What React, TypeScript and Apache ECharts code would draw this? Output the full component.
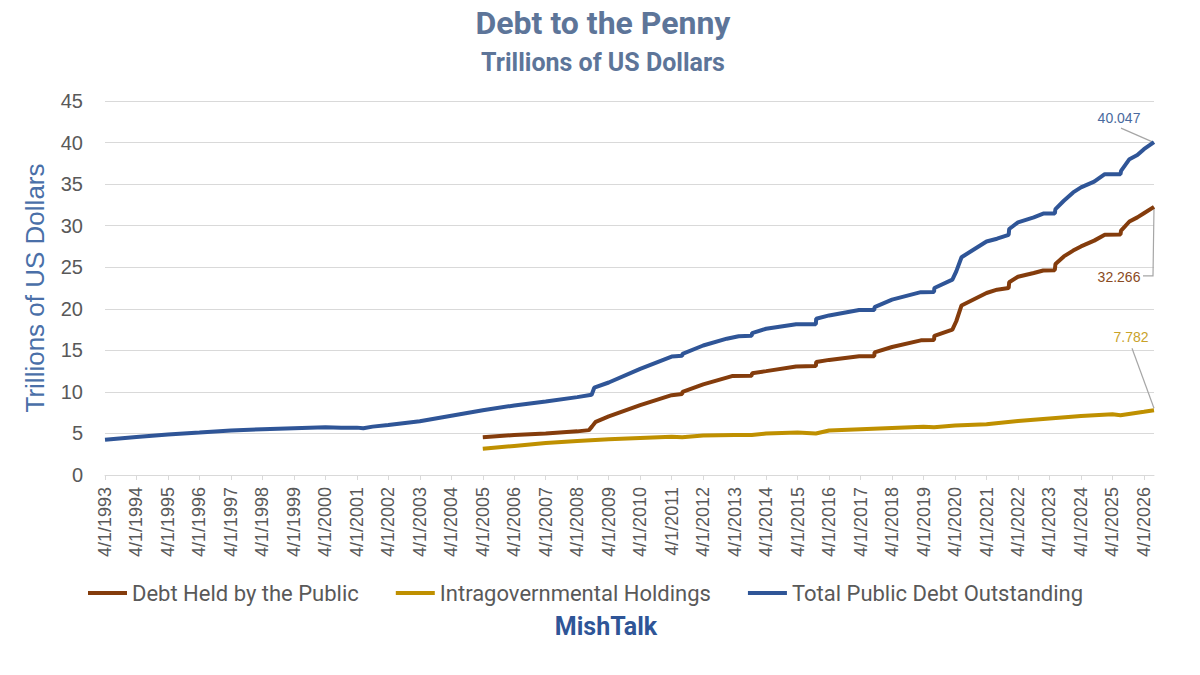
import { useEffect, useRef } from "react";
import * as echarts from "echarts";

const SERIES_NAMES = [
  "Debt Held by the Public",
  "Intragovernmental Holdings",
  "Total Public Debt Outstanding",
];

const TOTAL_DEBT: [string, number][] = [
  ["1993-04-01", 4.23], ["1994-04-01", 4.57], ["1995-04-01", 4.86], ["1996-04-01", 5.1],
  ["1997-04-01", 5.36], ["1998-04-01", 5.5], ["1999-04-01", 5.62], ["2000-04-01", 5.74],
  ["2000-10-01", 5.68], ["2001-04-01", 5.7], ["2001-06-15", 5.62], ["2001-10-01", 5.82],
  ["2002-04-01", 6.02], ["2003-04-01", 6.46], ["2004-04-01", 7.13], ["2005-04-01", 7.78],
  ["2006-04-01", 8.37], ["2007-04-01", 8.85], ["2008-04-01", 9.37], ["2008-09-15", 9.65],
  ["2008-10-15", 10.5], ["2009-04-01", 11.13], ["2010-04-01", 12.77], ["2011-04-01", 14.25],
  ["2011-05-16", 14.29], ["2011-08-01", 14.34], ["2011-08-05", 14.58], ["2012-04-01", 15.58],
  ["2012-12-31", 16.4], ["2013-05-17", 16.7], ["2013-10-16", 16.75], ["2013-10-20", 17.08],
  ["2014-04-01", 17.6], ["2015-03-15", 18.15], ["2015-10-30", 18.15], ["2015-11-03", 18.8],
  ["2016-04-01", 19.2], ["2017-03-15", 19.85], ["2017-09-07", 19.85], ["2017-09-10", 20.2],
  ["2018-04-01", 21.1], ["2019-03-01", 22.0], ["2019-08-01", 22.03], ["2019-08-05", 22.5],
  ["2020-03-01", 23.5], ["2020-04-15", 24.5], ["2020-06-15", 26.2], ["2021-04-01", 28.1],
  ["2021-08-01", 28.43], ["2021-12-14", 28.9], ["2021-12-20", 29.6], ["2022-04-01", 30.4],
  ["2022-10-01", 31.0], ["2023-01-19", 31.45], ["2023-06-02", 31.46], ["2023-06-10", 32.0],
  ["2023-09-15", 33.0], ["2024-01-01", 34.0], ["2024-04-01", 34.6], ["2024-09-01", 35.3],
  ["2025-01-02", 36.2], ["2025-07-03", 36.2], ["2025-07-10", 36.6], ["2025-10-15", 38.0],
  ["2026-01-15", 38.5], ["2026-04-01", 39.2], ["2026-07-27", 40.047],
];

const PUBLIC_DEBT: [string, number][] = [
  ["2005-04-01", 4.55], ["2006-04-01", 4.82], ["2007-04-01", 4.98], ["2008-04-01", 5.25],
  ["2008-08-15", 5.4], ["2008-09-20", 5.85], ["2008-11-01", 6.4], ["2009-04-01", 7.05],
  ["2010-04-01", 8.4], ["2011-04-01", 9.6], ["2011-08-01", 9.75], ["2011-08-05", 10.0],
  ["2012-04-01", 10.9], ["2013-03-01", 11.9], ["2013-10-16", 11.95], ["2013-10-20", 12.25],
  ["2014-04-01", 12.5], ["2015-03-15", 13.05], ["2015-10-30", 13.1], ["2015-11-03", 13.6],
  ["2016-04-01", 13.85], ["2017-03-15", 14.3], ["2017-09-07", 14.3], ["2017-09-10", 14.75],
  ["2018-04-01", 15.4], ["2019-03-01", 16.2], ["2019-08-01", 16.25], ["2019-08-05", 16.75],
  ["2020-03-01", 17.5], ["2020-04-15", 18.5], ["2020-06-15", 20.4], ["2021-04-01", 21.9],
  ["2021-08-01", 22.3], ["2021-12-14", 22.5], ["2021-12-20", 23.2], ["2022-04-01", 23.85],
  ["2022-10-01", 24.3], ["2023-01-19", 24.6], ["2023-06-02", 24.65], ["2023-06-10", 25.4],
  ["2023-09-15", 26.3], ["2024-01-01", 27.0], ["2024-04-01", 27.5], ["2024-09-01", 28.2],
  ["2025-01-02", 28.9], ["2025-07-03", 28.95], ["2025-07-10", 29.4], ["2025-10-15", 30.5],
  ["2026-01-15", 31.0], ["2026-04-01", 31.5], ["2026-07-27", 32.266],
];

const INTRAGOV: [string, number][] = [
  ["2005-04-01", 3.15], ["2006-04-01", 3.5], ["2007-04-01", 3.85], ["2008-04-01", 4.1],
  ["2009-04-01", 4.3], ["2010-04-01", 4.45], ["2011-04-01", 4.6], ["2011-08-01", 4.55],
  ["2012-04-01", 4.75], ["2013-04-01", 4.8], ["2013-10-16", 4.8], ["2014-04-01", 5.0],
  ["2015-04-01", 5.1], ["2015-10-30", 5.0], ["2016-04-01", 5.35], ["2017-04-01", 5.5],
  ["2018-04-01", 5.65], ["2019-04-01", 5.8], ["2019-08-01", 5.75], ["2020-04-01", 5.95],
  ["2021-04-01", 6.1], ["2022-04-01", 6.5], ["2023-04-01", 6.8], ["2024-04-01", 7.1],
  ["2025-04-01", 7.3], ["2025-07-03", 7.2], ["2026-04-01", 7.6], ["2026-07-27", 7.782],
];

const TICK_YEARS = [
  1993, 1994, 1995, 1996, 1997, 1998, 1999, 2000, 2001, 2002, 2003, 2004, 2005, 2006, 2007,
  2008, 2009, 2010, 2011, 2012, 2013, 2014, 2015, 2016, 2017, 2018, 2019, 2020, 2021, 2022,
  2023, 2024, 2025, 2026,
];

const COLORS = ["#843c0c", "#bf9000", "#2f5597"];
const LABEL_COLORS = ["#8a4a22", "#c9a228", "#4a6a9e"];

const toTs = (s: string) => {
  const [y, m, d] = s.split("-").map(Number);
  return Date.UTC(y, m - 1, d);
};
const toPoints = (arr: [string, number][]) => arr.map(([d, v]) => [toTs(d), v]);

export default function App() {
  const ref = useRef<HTMLDivElement>(null);

  useEffect(() => {
    document.body.style.margin = "0";
    if (!ref.current) return;
    const chart = echarts.init(ref.current, undefined, { renderer: "svg" });
    const seriesData = [PUBLIC_DEBT, INTRAGOV, TOTAL_DEBT].map(toPoints);
    const tickValues = TICK_YEARS.map((y) => Date.UTC(y, 3, 1));
    const xMin = tickValues[0];
    const xMax = toTs(TOTAL_DEBT[TOTAL_DEBT.length - 1][0]);

    chart.setOption({
      animation: false,
      backgroundColor: "#ffffff",
      grid: { left: 105, right: 46, top: 101, bottom: 200, containLabel: false },
      legend: {
        left: 88,
        top: 582,
        padding: 0,
        icon: "rect",
        itemWidth: 39,
        itemHeight: 4,
        itemGap: 37,
        data: SERIES_NAMES,
        textStyle: { fontFamily: "Roboto", fontSize: 22, color: "#595959" },
      },
      xAxis: {
        type: "value",
        min: xMin,
        max: xMax,
        splitLine: { show: false },
        axisLine: { show: true, lineStyle: { color: "#d9d9d9", width: 1 } },
        axisTick: {
          show: true,
          length: 5,
          customValues: tickValues,
          lineStyle: { color: "#d9d9d9" },
        },
        axisLabel: {
          customValues: tickValues,
          rotate: 90,
          margin: 12,
          fontFamily: "Liberation Sans",
          fontSize: 18,
          color: "#595959",
          formatter: (v: number) => {
            const d = new Date(v);
            return `${d.getUTCMonth() + 1}/${d.getUTCDate()}/${d.getUTCFullYear()}`;
          },
        },
      },
      yAxis: {
        type: "value",
        min: 0,
        max: 45,
        interval: 5,
        name: "Trillions of US Dollars",
        nameLocation: "middle",
        nameGap: 57,
        nameRotate: 90,
        nameTextStyle: { fontFamily: "Liberation Sans", fontSize: 26, color: "#4a6fa8" },
        axisLine: { show: false },
        axisTick: { show: false },
        axisLabel: { margin: 22, fontFamily: "Liberation Sans", fontSize: 20, color: "#595959" },
        splitLine: { lineStyle: { color: "#d9d9d9", width: 1.2 } },
      },
      series: SERIES_NAMES.map((name, i) => ({
        name,
        type: "line",
        data: seriesData[i],
        showSymbol: false,
        symbol: "none",
        lineStyle: { color: COLORS[i], width: 4 },
        itemStyle: { color: COLORS[i] },
        z: 2 + i,
      })),
    });

    const ends = seriesData.map((d) => {
      const last = d[d.length - 1];
      return chart.convertToPixel({ xAxisIndex: 0, yAxisIndex: 0 }, last) as number[];
    });
    const lastVals = [PUBLIC_DEBT, INTRAGOV, TOTAL_DEBT].map((a) => a[a.length - 1][1]);
    const fmt = (v: number) => v.toFixed(3);
    const labelFont = "14px 'Liberation Sans'";
    const leader = { stroke: "#a6a6a6", lineWidth: 1.2, fill: "none" };

    const [pPub, pInt, pTot] = ends;
    chart.setOption({
      graphic: [
        {
          type: "text", x: 603, y: 23,
          style: { text: "Debt to the Penny", fill: "#5d7599", font: "bold 32px Roboto", textAlign: "center", textVerticalAlign: "middle" },
        },
        {
          type: "text", x: 603, y: 62,
          style: { text: "Trillions of US Dollars", fill: "#5d7599", font: "bold 25px Roboto", textAlign: "center", textVerticalAlign: "middle" },
        },
        {
          type: "text", x: 606, y: 626,
          style: { text: "MishTalk", fill: "#2f5597", font: "bold 25px Roboto", textAlign: "center", textVerticalAlign: "middle" },
        },
        // Total
        {
          type: "text", x: pTot[0] - 35, y: pTot[1] - 24,
          style: { text: fmt(lastVals[2]), fill: LABEL_COLORS[2], font: labelFont, textAlign: "center", textVerticalAlign: "middle" },
        },
        {
          type: "polyline",
          shape: { points: [[pTot[0] - 33, pTot[1] - 14], [pTot[0] - 1, pTot[1]]] },
          style: leader,
        },
        // Public
        {
          type: "text", x: pPub[0] - 35, y: pPub[1] + 70,
          style: { text: fmt(lastVals[0]), fill: LABEL_COLORS[0], font: labelFont, textAlign: "center", textVerticalAlign: "middle" },
        },
        {
          type: "polyline",
          shape: { points: [[pPub[0] - 11, pPub[1] + 69], [pPub[0] - 1, pPub[1] + 69], [pPub[0], pPub[1] + 1]] },
          style: leader,
        },
        // Intragov
        {
          type: "text", x: pInt[0] - 23, y: pInt[1] - 73,
          style: { text: fmt(lastVals[1]), fill: LABEL_COLORS[1], font: labelFont, textAlign: "center", textVerticalAlign: "middle" },
        },
        {
          type: "polyline",
          shape: { points: [[pInt[0] - 22, pInt[1] - 62], [pInt[0], pInt[1] - 2]] },
          style: leader,
        },
      ],
    });

    return () => chart.dispose();
  }, []);

  return <div ref={ref} style={{ width: 1200, height: 675 }} />;
}
